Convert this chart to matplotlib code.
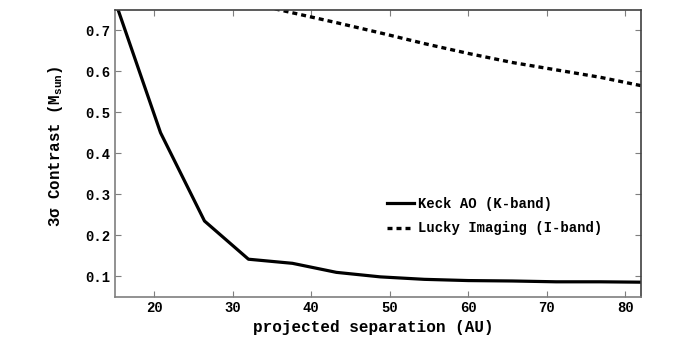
import matplotlib
matplotlib.use("Agg")
import matplotlib.pyplot as plt

# projected separation (AU)
sep_keck = [15.2, 20.8, 26.4, 32.0, 37.6, 43.2, 48.8, 54.4, 60.0, 65.6, 71.2, 76.8, 82.4]
# 3 sigma contrast (Msun), Keck AO K-band
mass_keck = [0.76, 0.45, 0.235, 0.142, 0.132, 0.110, 0.099, 0.093, 0.090, 0.089, 0.087, 0.087, 0.086]

sep_lucky = [32.0, 37.6, 43.2, 48.8, 54.4, 60.0, 65.6, 71.2, 76.8, 82.4]
mass_lucky = [0.766, 0.742, 0.718, 0.693, 0.667, 0.643, 0.621, 0.603, 0.585, 0.563]

plt.rcParams['font.family'] = ['Liberation Mono', 'DejaVu Sans Mono']
plt.rcParams['font.weight'] = 'bold'
plt.rcParams['mathtext.fontset'] = 'custom'
plt.rcParams['mathtext.rm'] = 'Liberation Mono:bold'
plt.rcParams['mathtext.it'] = 'Liberation Mono:bold'
plt.rcParams['mathtext.bf'] = 'Liberation Mono:bold'

fig = plt.figure(figsize=(6.79, 3.53), dpi=100)
ax = fig.add_axes([115 / 679, 1 - 297 / 353, (641 - 115) / 679, (297 - 9.5) / 353])

ax.plot(sep_keck, mass_keck, color='black', linewidth=2.3, label='Keck AO (K-band)')
ax.plot(sep_lucky, mass_lucky, color='black', linewidth=2.4, linestyle=(0, (1.5, 1.2)),
        label='Lucky Imaging (I-band)')

ax.set_xlim(15, 82)
ax.set_ylim(0.05, 0.75)
ax.set_xticks([20, 30, 40, 50, 60, 70, 80])
ax.set_yticks([0.1, 0.2, 0.3, 0.4, 0.5, 0.6, 0.7])

for side in ['left', 'bottom']:
    ax.spines[side].set_color('#7f7f7f')
for side in ['right', 'top']:
    ax.spines[side].set_color('#404040')
for s in ax.spines.values():
    s.set_linewidth(1.2)

ax.tick_params(direction='in', top=True, right=True, length=4, width=0.8,
               color='#7f7f7f', labelsize=10, pad=3)
ax.set_xlabel('projected separation (AU)', fontsize=11.5, fontweight='bold')
ax.set_ylabel(r'3σ Contrast (M$_{\rm sun}$)', fontsize=11.3, fontweight='bold')
ax.xaxis.set_label_coords(0.4914, -0.079)
ax.yaxis.set_label_coords(-0.095, 0.525)

ax.legend(frameon=False, loc='upper left', fontsize=10,
          bbox_to_anchor=(386.5 / 679, 1 - 197 / 353), bbox_transform=fig.transFigure,
          borderaxespad=0, borderpad=0, handlelength=2.0, handletextpad=0.3,
          labelspacing=0.75)

fig.savefig('out.png', dpi=100)
